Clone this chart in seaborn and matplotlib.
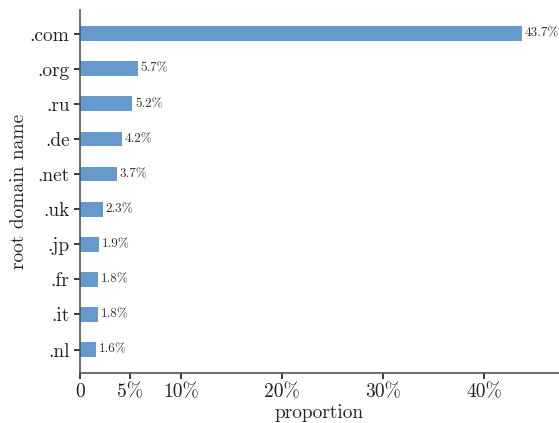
import matplotlib
matplotlib.use("Agg")
import matplotlib.pyplot as plt
import seaborn as sns
import pandas as pd

domains = [".com", ".org", ".ru", ".de", ".net", ".uk", ".jp", ".fr", ".it", ".nl"]
shares = [43.7, 5.7, 5.2, 4.2, 3.7, 2.3, 1.9, 1.8, 1.8, 1.6]
xtick_values = [0, 5, 10, 20, 30, 40]
xtick_labels = ["0", "5%", "10%", "20%", "30%", "40%"]

sns.set_theme(style="ticks")
plt.rcParams["font.family"] = ["cmr10", "DejaVu Serif"]
plt.rcParams["axes.formatter.use_mathtext"] = True
plt.rcParams["mathtext.fontset"] = "cm"

df = pd.DataFrame({"domain": domains, "share": shares})

fig = plt.figure(figsize=(5.59, 4.23), dpi=100)
ax = fig.add_axes([0.143, 0.118, 0.857, 0.858])

sns.barplot(data=df, x="share", y="domain", orient="h", color="#6699cc",
            saturation=1, width=0.42, linewidth=0, ax=ax)

for i, v in enumerate(shares):
    ax.text(v + 0.25, i, f"{v:.1f}%", va="center", ha="left",
            fontsize=9.5, color="#333333")

ax.set_xlim(0, 47.4)
ax.set_ylim(9.67, -0.67)
ax.set_xticks(xtick_values)
ax.set_xticklabels(xtick_labels)
ax.set_xlabel("proportion", fontsize=14, labelpad=2)
ax.set_ylabel("root domain name", fontsize=14, labelpad=1)
ax.tick_params(axis="both", labelsize=14, length=4, color="#222222",
               labelcolor="#222222")
for side in ["left", "bottom"]:
    ax.spines[side].set_color("#555555")
    ax.spines[side].set_linewidth(1.2)
sns.despine(ax=ax)

fig.savefig("out.png", dpi=100)
